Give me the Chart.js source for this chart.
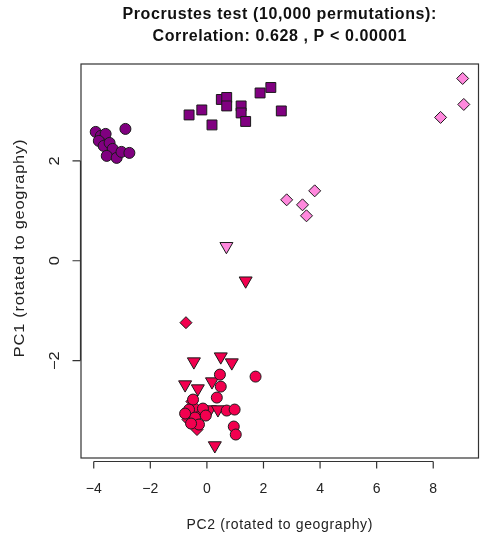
<!DOCTYPE html>
<html>
<head>
<meta charset="utf-8">
<script src="https://cdn.jsdelivr.net/npm/chart.js@4"></script>
<style>
  html, body { margin: 0; padding: 0; background: #fff; }
  #wrap { width: 487px; height: 541px; position: relative; }
</style>
</head>
<body>
<div id="wrap"><canvas id="chart"></canvas></div>
<script>
'use strict';

// PC2 / PC1 scores per group (rotated to geography)
const purpleCircleX = [-3.93, -3.75, -3.58, -3.82, -3.65, -3.44, -3.33, -3.54, -3.19, -3.02, -2.74, -2.88];
const purpleCircleY = [2.58, 2.50, 2.54, 2.40, 2.30, 2.36, 2.24, 2.10, 2.06, 2.18, 2.16, 2.64];

const purpleSquareX = [-0.63, -0.18, 0.18, 0.51, 0.70, 0.70, 1.21, 1.21, 1.37, 1.88, 2.26, 2.63];
const purpleSquareY = [2.92, 3.02, 2.72, 3.23, 3.27, 3.10, 3.10, 2.96, 2.79, 3.36, 3.47, 3.00];

const pinkDiamondX = [9.04, 9.08, 8.26, 2.82, 3.81, 3.38, 3.52];
const pinkDiamondY = [3.65, 3.13, 2.87, 1.22, 1.40, 1.12, 0.90];

const pinkTriangleX = [0.69];
const pinkTriangleY = [0.29];

const redCircleX = [0.46, 0.49, 0.35, 0.70, 0.98, 0.95, 1.02, 1.72, -0.49, -0.63, -0.42, -0.14, -0.28, -0.56, -0.04, -0.77];
const redCircleY = [-2.28, -2.52, -2.74, -3.00, -2.98, -3.32, -3.48, -2.32, -2.78, -2.98, -3.14, -2.96, -3.28, -3.26, -3.10, -3.06];

const redDiamondX = [-0.74, -0.53, -0.35, -0.21, -0.67, -0.42];
const redDiamondY = [-1.24, -2.82, -3.38, -3.04, -3.18, -2.94];

const redTriangleX = [1.37, -0.46, 0.49, 0.88, -0.77, -0.32, 0.18, 0.28, 0.11, 0.39, -0.63];
const redTriangleY = [-0.40, -2.02, -1.92, -2.04, -2.48, -2.56, -2.42, -3.70, -2.98, -2.98, -3.04];

const xTicks = [-4, -2, 0, 2, 4, 6, 8];
const yTicks = [-2, 0, 2];

const titleLines = ['Procrustes test (10,000 permutations):', 'Correlation: 0.628 , P < 0.00001'];
const xTitle = 'PC2 (rotated to geography)';
const yTitle = 'PC1 (rotated to geography)';

const PURPLE = '#800080';
const PINK = '#ff88dd';
const RED = '#f2004f';
const FONT = '"Liberation Sans", Arial, sans-serif';

function pts(xs, ys) { return xs.map((x, i) => ({ x, y: ys[i] })); }

function series(xs, ys, color, style, radius, rotation) {
  return {
    data: pts(xs, ys),
    pointStyle: style,
    pointRadius: radius,
    pointRotation: rotation || 0,
    backgroundColor: color,
    borderColor: '#1a1a1a',
    borderWidth: 1,
    showLine: false
  };
}

// vertical text, slightly stretched along its run
function upText(ctx, text, cx, cy) {
  ctx.save();
  ctx.translate(cx, cy);
  ctx.rotate(-Math.PI / 2);
  ctx.scale(1.17, 1);
  ctx.fillText(text, 0, 0);
  ctx.restore();
}

// R-style frame: box, detached axes with outward ticks, labels and titles
const rFrame = {
  id: 'rFrame',
  beforeDatasetsDraw(chart) {
    const { ctx, chartArea: a, scales: { x, y } } = chart;
    ctx.save();
    ctx.strokeStyle = '#333';
    ctx.lineWidth = 1.2;
    ctx.strokeRect(a.left, a.top, a.right - a.left, a.bottom - a.top);

    // x axis
    const xa = a.bottom + 3.5;
    ctx.beginPath();
    ctx.moveTo(x.getPixelForValue(xTicks[0]), xa);
    ctx.lineTo(x.getPixelForValue(xTicks[xTicks.length - 1]), xa);
    xTicks.forEach(v => {
      const px = x.getPixelForValue(v);
      ctx.moveTo(px, xa); ctx.lineTo(px, xa + 7);
    });
    // y axis
    const ya = a.left - 0.5;
    ctx.moveTo(ya, y.getPixelForValue(yTicks[0]));
    ctx.lineTo(ya, y.getPixelForValue(yTicks[yTicks.length - 1]));
    yTicks.forEach(v => {
      const py = y.getPixelForValue(v);
      ctx.moveTo(ya, py); ctx.lineTo(ya - 8, py);
    });
    ctx.stroke();

    const lab = v => (v < 0 ? '\u2212' + Math.abs(v) : String(v));
    ctx.fillStyle = '#222';
    ctx.font = '14px ' + FONT;
    ctx.textAlign = 'center';
    ctx.textBaseline = 'middle';
    xTicks.forEach(v => ctx.fillText(lab(v), x.getPixelForValue(v), 489));
    yTicks.forEach(v => upText(ctx, lab(v), 55, y.getPixelForValue(v)));

    ctx.letterSpacing = '0.65px';
    ctx.fillText(xTitle, (a.left + a.right) / 2, 525);
    upText(ctx, yTitle, 20, 248);

    ctx.fillStyle = '#111';
    ctx.font = 'bold 16px ' + FONT;
    ctx.letterSpacing = '0.6px';
    ctx.fillText(titleLines[0], (a.left + a.right) / 2, 15);
    ctx.fillText(titleLines[1], (a.left + a.right) / 2, 37);
    ctx.restore();
  }
};

new Chart(document.getElementById('chart'), {
  type: 'scatter',
  data: {
    datasets: [
      series(purpleCircleX, purpleCircleY, PURPLE, 'circle', 5.5),
      series(purpleSquareX, purpleSquareY, PURPLE, 'rect', 7),
      series(pinkDiamondX, pinkDiamondY, PINK, 'rectRot', 6),
      series(pinkTriangleX, pinkTriangleY, PINK, 'triangle', 7.5, 180),
      series(redCircleX, redCircleY, RED, 'circle', 5.5),
      series(redDiamondX, redDiamondY, RED, 'rectRot', 6),
      series(redTriangleX, redTriangleY, RED, 'triangle', 7.5, 180)
    ]
  },
  options: {
    responsive: true,
    maintainAspectRatio: false,
    animation: false,
    layout: { padding: { left: 81, right: 6, top: 64, bottom: 83 } },
    plugins: { legend: { display: false }, tooltip: { enabled: false }, title: { display: false } },
    scales: {
      x: { type: 'linear', min: -4.45, max: 9.6, display: false },
      y: { type: 'linear', min: -3.95, max: 3.94, display: false }
    }
  },
  plugins: [rFrame]
});
</script>
</body>
</html>
